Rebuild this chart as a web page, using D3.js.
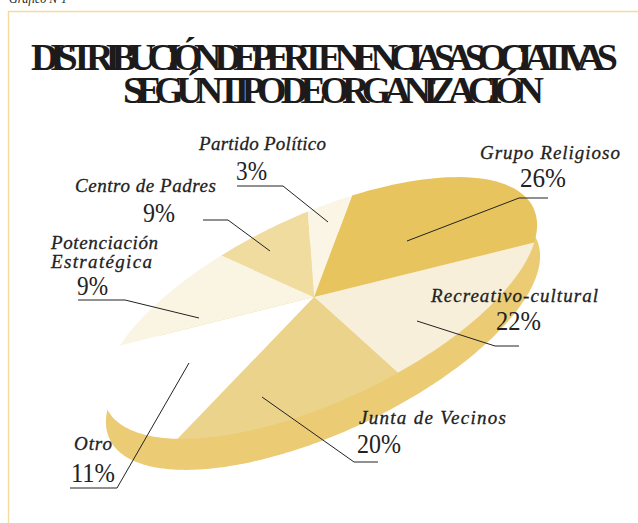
<!DOCTYPE html>
<html><head><meta charset="utf-8">
<script src="https://cdn.jsdelivr.net/npm/d3@7"></script>
<style>html,body{margin:0;padding:0;background:#fff}svg{display:block}</style>
</head><body><svg id="c" width="638" height="523"></svg>
<script>
// ---- data ----
const categories = ["Grupo Religioso","Recreativo-cultural","Junta de Vecinos","Otro","Potenciación Estratégica","Centro de Padres","Partido Político"];
const values = [26,22,20,11,9,9,3];
const sliceColors = ["#E8C45F","#F7EFD9","#ECD38B","#FFFFFF","#FAF5E3","#F0DC9F","#FAF5E4"];
const titleLines = ["DISTRIBUCIÓN DE PERTENENCIAS ASOCIATIVAS","SEGÚN TIPO DE ORGANIZACIÓN"];

// ---- layout ----
const svg=d3.select("#c");
const rad=Math.PI/180;
const E={cx:320,cy:308,a:235.7,b:93.3,rot:-25.1*rad,dx:3,dy:31};
const apex=[314,297];
const ellipse=(t,dx=0,dy=0)=>{
  const x=E.a*Math.cos(t),y=E.b*Math.sin(t);
  return [E.cx+dx+x*Math.cos(E.rot)-y*Math.sin(E.rot),E.cy+dy+x*Math.sin(E.rot)+y*Math.cos(E.rot)];
};
// Pie angles (true shares) pass through a foreshortening scale of the drawing's oblique view
const pie=d3.pie().sort(null).value(d=>d);
const arcs=pie(values);
const view=d3.scaleLinear()
  .domain([0,...arcs.map(a=>a.endAngle)])
  .range([-71,19.8,79.5,141.5,213,253.5,277.3,289].map(d=>d*rad));
const line=d3.line();
const wedge=a=>{
  const t0=view(a.startAngle),t1=view(a.endAngle);
  const ts=d3.range(0,41).map(i=>t0+(t1-t0)*i/40);
  return line([apex,...ts.map(t=>ellipse(t))])+"Z";
};

// panel
svg.append("path").attr("d","M8.5,523V11.5H638").attr("fill","none").attr("stroke","#F5DC9E").attr("stroke-width",1.4);
svg.append("text").attr("x",9).attr("y",3).attr("font-family","Liberation Serif").attr("font-style","italic").attr("font-size",12).attr("fill","#222").text("Gráfico Nº1");

// title
const tl=[{x:31,y:70,len:587},{x:123,y:103,len:421}];
svg.selectAll(".t").data(titleLines).join("text").attr("class","t")
  .attr("x",(d,i)=>tl[i].x).attr("y",(d,i)=>tl[i].y)
  .attr("textLength",(d,i)=>tl[i].len).attr("lengthAdjust","spacing")
  .attr("font-family","Liberation Serif").attr("font-weight","bold").attr("font-size",38).attr("fill","#1c1a1a").style("white-space","pre").text(d=>d);

// side of the disc: the same ellipse, dropped below the top face
svg.append("path").attr("d",line(d3.range(0,360,1).map(d=>ellipse(d*rad,E.dx,E.dy)))+"Z").attr("fill","#EBCB74");
// top-face slices
svg.selectAll(".s").data(arcs).join("path").attr("class","s").attr("d",wedge).attr("fill",(d,i)=>sliceColors[i]);

// labels and leaders
const ann=[
 {lab:[[480,159,140]],pct:[520,187,46],leader:[[548,198],[519,198],[407,241]]},
 {lab:[[431,302,167]],pct:[496,330,45],leader:[[519,346],[495,346],[417,321]]},
 {lab:[[359,424,147]],pct:[357,453,44],leader:[[378,462],[354,462],[262,397]]},
 {lab:[[74,450,38]],pct:[71,482,44],leader:[[70,488],[117,488],[189,363]]},
 {lab:[[51,249,107],[51,268,101]],pct:[77,295,31],leader:[[78,300],[125,300],[199,318]]},
 {lab:[[75,192,141]],pct:[143,222,32],leader:[[203,220],[228,220],[270,251]]},
 {lab:[[199,150,127]],pct:[236,180,31],leader:[[237,186],[283,186],[328,222]]}
];
const labelLines=[["Grupo Religioso"],["Recreativo-cultural"],["Junta de Vecinos"],["Otro"],["Potenciación","Estratégica"],["Centro de Padres"],["Partido Político"]];
ann.forEach((a,i)=>{
  svg.append("path").attr("d",line(a.leader)).attr("fill","none").attr("stroke","#222").attr("stroke-width",1);
  labelLines[i].forEach((s,j)=>svg.append("text").attr("x",a.lab[j][0]).attr("y",a.lab[j][1])
    .attr("textLength",a.lab[j][2]).attr("lengthAdjust","spacing")
    .attr("font-family","Liberation Serif").attr("font-style","italic").attr("font-size",19).attr("fill","#222").attr("stroke","#222").attr("stroke-width",0.3).text(s));
  svg.append("text").attr("x",a.pct[0]).attr("y",a.pct[1]).attr("textLength",a.pct[2]).attr("lengthAdjust","spacingAndGlyphs")
    .attr("font-family","Liberation Serif").attr("font-size",28).attr("fill","#222").text(values[i]+"%");
});
</script></body></html>
